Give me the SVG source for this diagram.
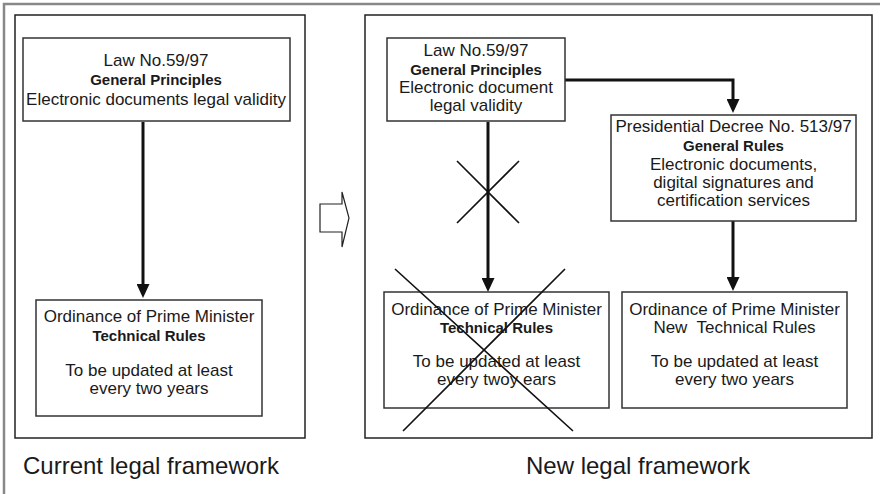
<svg xmlns="http://www.w3.org/2000/svg" width="880" height="494" viewBox="0 0 880 494">
  <defs>
    <marker id="head" markerUnits="userSpaceOnUse" markerWidth="14" markerHeight="13" refX="4" refY="6.5" orient="auto">
      <path d="M0,0 L14,6.5 L0,13 z" fill="#111"/>
    </marker>
    <style>
      text { font-family: "Liberation Sans", Arial, sans-serif; fill: #1a1a1a; text-anchor: middle; }
      .t { font-size: 17px; }
      .b { font-size: 15px; font-weight: bold; }
      .cap { font-size: 24px; text-anchor: start; }
      .box { fill: #fff; stroke: #333; stroke-width: 1.5; }
      .panel { fill: none; stroke: #222; stroke-width: 1.5; }
      .frame { fill: none; stroke: #888; stroke-width: 2.5; }
      .wire { fill: none; stroke: #111; stroke-width: 3; marker-end: url(#head); }
      .cross { stroke: #111; stroke-width: 1.6; fill: none; }
    </style>
  </defs>

  <rect width="880" height="494" fill="#fff"/>

  <!-- page frame -->
  <path class="frame" d="M4,494 V4 H880"/>

  <!-- panels -->
  <g id="current-panel">
    <rect class="panel" x="15" y="15" width="290" height="423"/>
    <text class="cap" x="23" y="474">Current legal framework</text>
  </g>
  <g id="new-panel">
    <rect class="panel" x="365" y="15" width="507" height="423"/>
    <text class="cap" x="526" y="474">New legal framework</text>
  </g>

  <!-- transition arrow -->
  <g id="transition">
    <polygon points="320,204 342,204 342,192 349,218 342,247 342,232 320,232" fill="#fff" stroke="#222" stroke-width="1.2"/>
  </g>

  <!-- connectors -->
  <g id="connectors">
    <path class="wire" d="M143,122 V288"/>
    <path class="wire" d="M488,122 V282"/>
    <path class="wire" d="M565,80 H733 V103"/>
    <path class="wire" d="M733,221 V281"/>
  </g>

  <!-- current framework -->
  <g id="law-current">
    <rect class="box" x="23" y="38" width="267" height="83"/>
    <text class="t" x="156" y="66">Law No.59/97</text>
    <text class="b" x="156" y="85">General Principles</text>
    <text class="t" x="156" y="105">Electronic documents legal validity</text>
  </g>
  <g id="ordinance-current">
    <rect class="box" x="36" y="300" width="226" height="116"/>
    <text class="t" x="149" y="322">Ordinance of Prime Minister</text>
    <text class="b" x="149" y="341">Technical Rules</text>
    <text class="t" x="149" y="376">To be updated at least</text>
    <text class="t" x="149" y="394">every two years</text>
  </g>

  <!-- new framework -->
  <g id="law-new">
    <rect class="box" x="387" y="38" width="178" height="83"/>
    <text class="t" x="476" y="56">Law No.59/97</text>
    <text class="b" x="476" y="75">General Principles</text>
    <text class="t" x="476" y="93">Electronic document</text>
    <text class="t" x="476" y="111">legal validity</text>
  </g>
  <g id="decree">
    <rect class="box" x="611" y="115" width="245" height="106"/>
    <text class="t" x="733.5" y="132">Presidential Decree No. 513/97</text>
    <text class="b" x="733.5" y="151">General Rules</text>
    <text class="t" x="733.5" y="170">Electronic documents,</text>
    <text class="t" x="733.5" y="188">digital signatures and</text>
    <text class="t" x="733.5" y="206">certification services</text>
  </g>
  <g id="ordinance-old">
    <rect class="box" x="384" y="292" width="225" height="116"/>
    <text class="t" x="496.5" y="315">Ordinance of Prime Minister</text>
    <text class="b" x="496.5" y="333">Technical Rules</text>
    <text class="t" x="496.5" y="367">To be updated at least</text>
    <text class="t" x="496.5" y="385">every twoy ears</text>
  </g>
  <g id="ordinance-new">
    <rect class="box" x="622" y="292" width="225" height="116"/>
    <text class="t" x="734.5" y="315" xml:space="preserve">Ordinance of Prime Minister</text>
    <text class="t" x="734.5" y="333" xml:space="preserve">New  Technical Rules</text>
    <text class="t" x="734.5" y="367">To be updated at least</text>
    <text class="t" x="734.5" y="385">every two years</text>
  </g>

  <!-- strike-outs -->
  <g id="strikes">
    <path class="cross" d="M457,161 L519,223 M457,223 L519,161"/>
    <path class="cross" d="M395,269 L573,431 M565,269 L403,431"/>
  </g>
</svg>
